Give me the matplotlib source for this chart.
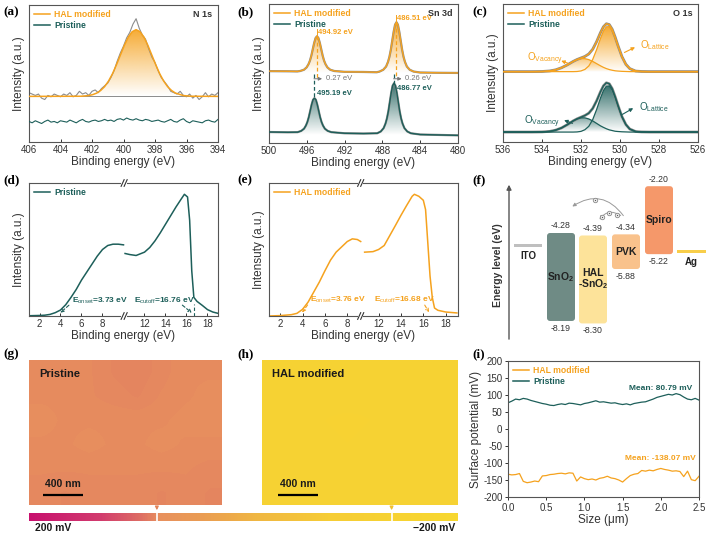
import numpy as np
import matplotlib
matplotlib.use('Agg')
import matplotlib.pyplot as plt
from matplotlib.colors import LinearSegmentedColormap, Normalize, to_rgb
from matplotlib.lines import Line2D
from matplotlib.patches import FancyBboxPatch, Rectangle, PathPatch, FancyArrowPatch
from matplotlib.path import Path

plt.rcParams['font.family'] = ['Liberation Sans', 'DejaVu Sans']
plt.rcParams['mathtext.fontset'] = 'custom'
plt.rcParams['mathtext.rm'] = 'Liberation Sans'
plt.rcParams['mathtext.bf'] = 'Liberation Sans:bold'
plt.rcParams['mathtext.it'] = 'Liberation Sans:italic'
plt.rcParams['axes.unicode_minus'] = False

W, H = 709, 534
ORANGE = '#F5A21E'
TEAL = '#1D5F5A'
GRAY = '#8C8C8C'
TXT = '#333333'

# ---------------- (a) N 1s ----------------
n1s_x = np.linspace(406, 394, 61)
n1s_hal_raw = [0.36, 0.35, 0.34, 0.35, 0.32, 0.31, 0.34, 0.33, 0.35, 0.34,
               0.33, 0.35, 0.34, 0.36, 0.33, 0.34, 0.37, 0.35, 0.36, 0.34,
               0.37, 0.38, 0.36, 0.39, 0.41, 0.43, 0.47, 0.52, 0.59, 0.65,
               0.70, 0.76, 0.80, 0.86, 0.90, 0.83, 0.78, 0.75, 0.68, 0.62,
               0.58, 0.52, 0.47, 0.44, 0.41, 0.37, 0.36, 0.35, 0.37, 0.34,
               0.33, 0.35, 0.32, 0.34, 0.31, 0.33, 0.36, 0.33, 0.35, 0.34,
               0.36]
n1s_pristine = [0.150, 0.140, 0.155, 0.145, 0.135, 0.150, 0.160, 0.145, 0.150, 0.140,
                0.155, 0.150, 0.145, 0.160, 0.150, 0.140, 0.155, 0.165, 0.150, 0.145,
                0.155, 0.160, 0.150, 0.155, 0.165, 0.155, 0.160, 0.150, 0.165, 0.170,
                0.160, 0.175, 0.165, 0.160, 0.170, 0.160, 0.155, 0.165, 0.160, 0.150,
                0.155, 0.160, 0.150, 0.145, 0.155, 0.165, 0.150, 0.145, 0.160, 0.170,
                0.150, 0.140, 0.155, 0.150, 0.145, 0.140, 0.155, 0.160, 0.150, 0.145,
                0.165]
n1s_base = 0.333
n1s_fit_x = [406, 402.7, 402.2, 401.95, 401.7, 401.45, 401.2, 400.95, 400.7, 400.45,
             400.2, 399.95, 399.7, 399.45, 399.2, 398.95, 398.7, 398.45, 398.2, 397.95,
             397.7, 397.45, 397.2, 396.95, 396.7, 396.2, 395.7, 394]
n1s_fit_y = [0.333, 0.334, 0.339, 0.346, 0.357, 0.376, 0.404, 0.445, 0.498, 0.563,
             0.634, 0.705, 0.765, 0.805, 0.820, 0.805, 0.765, 0.705, 0.634, 0.563,
             0.498, 0.445, 0.404, 0.376, 0.357, 0.339, 0.334, 0.333]

# ---------------- (b) Sn 3d ----------------
sn_hal_x = [500, 498, 497, 496.7, 496.3, 496.02, 495.82, 495.67, 495.52, 495.37,
            495.22, 495.07, 494.92, 494.77, 494.62, 494.47, 494.32, 494.17, 494.02, 493.82,
            493.52, 493.1, 492, 490, 488.6, 488.3, 487.91, 487.61, 487.41, 487.26,
            487.11, 486.96, 486.81, 486.66, 486.51, 486.36, 486.21, 486.06, 485.91, 485.76,
            485.61, 485.41, 485.11, 484.7, 484, 482, 480]
sn_hal_y = [0.517, 0.516, 0.515, 0.518, 0.527, 0.544, 0.567, 0.592, 0.628, 0.674,
            0.720, 0.755, 0.768, 0.755, 0.720, 0.674, 0.628, 0.592, 0.567, 0.544,
            0.527, 0.518, 0.512, 0.511, 0.509, 0.514, 0.527, 0.550, 0.583, 0.619,
            0.670, 0.735, 0.800, 0.851, 0.869, 0.851, 0.800, 0.735, 0.670, 0.619,
            0.583, 0.550, 0.527, 0.514, 0.507, 0.505, 0.504]
sn_pri_x = [500, 498, 496.97, 496.59, 496.29, 496.09, 495.94, 495.79, 495.64, 495.49,
            495.34, 495.19, 495.04, 494.89, 494.74, 494.59, 494.44, 494.29, 494.09, 493.79,
            493.41, 492, 490, 488.55, 488.17, 487.87, 487.67, 487.52, 487.37, 487.22,
            487.07, 486.92, 486.77, 486.62, 486.47, 486.32, 486.17, 486.02, 485.87, 485.67,
            485.37, 484.99, 484, 482, 480]
sn_pri_y = [0.079, 0.077, 0.078, 0.087, 0.103, 0.126, 0.151, 0.186, 0.231, 0.276,
            0.311, 0.323, 0.311, 0.276, 0.231, 0.186, 0.151, 0.126, 0.103, 0.087,
            0.078, 0.070, 0.068, 0.070, 0.083, 0.107, 0.140, 0.177, 0.228, 0.294,
            0.360, 0.412, 0.430, 0.412, 0.360, 0.294, 0.228, 0.177, 0.140, 0.107,
            0.083, 0.070, 0.061, 0.058, 0.055]
sn_hal_peaks = [494.92, 486.51]
sn_hal_tops = [0.768, 0.869]
sn_pri_peaks = [495.19, 486.77]
sn_pri_tops = [0.323, 0.430]
sn_pri_label_y = [0.355, 0.39]
sn_shifts = ['0.27 eV', '0.26 eV']

# ---------------- (c) O 1s ----------------
o1s_x = [536, 535, 534.5, 534, 533.6, 533.3, 533.0, 532.7, 532.4, 532.2,
         532.0, 531.8, 531.6, 531.4, 531.2, 531.0, 530.85, 530.7, 530.55, 530.4,
         530.25, 530.1, 529.9, 529.7, 529.5, 529.2, 528.9, 528.5, 528, 527, 526]
o_hal_lat = [.510, .510, .510, .510, .510, .510, .510, .510, .510, .511,
             .515, .526, .551, .598, .669, .751, .804, .835, .836, .807,
             .755, .693, .617, .562, .532, .514, .511, .510, .510, .510, .510]
o_hal_vac = [.510, .510, .510, .511, .515, .523, .538, .559, .584, .597,
             .604, .604, .597, .584, .568, .552, .541, .532, .525, .520,
             .516, .514, .512, .511, .510, .510, .510, .510, .510, .510, .510]
o_hal_tot = [.510, .510, .510, .511, .515, .523, .538, .559, .584, .598,
             .609, .620, .638, .672, .727, .793, .835, .857, .851, .817,
             .761, .697, .619, .563, .532, .514, .511, .510, .510, .510, .510]
o_pri_lat = [.072, .072, .072, .072, .072, .072, .072, .072, .072, .073,
             .077, .089, .114, .162, .235, .319, .373, .405, .406, .376,
             .323, .260, .182, .126, .094, .076, .073, .072, .072, .072, .072]
o_pri_vac = [.072, .072, .072, .073, .077, .086, .102, .126, .153, .167,
             .175, .175, .167, .153, .135, .117, .106, .096, .088, .083,
             .078, .076, .074, .073, .072, .072, .072, .072, .072, .072, .072]
o_pri_tot = [.072, .072, .072, .073, .077, .086, .102, .126, .153, .168,
             .180, .192, .209, .243, .298, .364, .407, .429, .422, .387,
             .329, .264, .184, .127, .094, .076, .073, .072, .072, .072, .072]

# ---------------- (d), (e) UPS ----------------
d_left_x = [1.0, 2.0, 2.5, 3.0, 3.5, 4.0, 4.5, 5.0, 5.5, 6.0, 6.5, 7.0, 7.5, 8.0, 8.5, 9.0, 9.5, 10.0]
d_left_y = [0.002, 0.004, 0.006, 0.012, 0.025, 0.045, 0.085, 0.14, 0.20, 0.27, 0.33, 0.39,
            0.45, 0.50, 0.53, 0.54, 0.54, 0.535]
d_right_x = [10.15, 10.6, 11.2, 12.0, 12.5, 13.0, 13.5, 14.0, 14.5, 15.0, 15.5, 15.8, 16.1,
             16.3, 16.5, 16.7, 17.0, 17.5, 18.0, 18.5, 19.0]
d_right_y = [0.47, 0.462, 0.455, 0.48, 0.515, 0.565, 0.625, 0.69, 0.755, 0.82, 0.88, 0.915,
             0.895, 0.72, 0.34, 0.14, 0.11, 0.08, 0.048, 0.03, 0.02]
e_left_x = [1.0, 2.0, 3.0, 3.5, 4.0, 4.5, 5.0, 5.5, 6.0, 6.5, 7.0, 7.5, 8.0, 8.45, 8.9, 9.2]
e_left_y = [0.0, 0.003, 0.01, 0.02, 0.05, 0.105, 0.18, 0.255, 0.34, 0.42, 0.48, 0.52, 0.56,
            0.58, 0.575, 0.56]
e_right_x = [10.75, 11.5, 12.0, 12.5, 13.0, 13.5, 14.0, 14.5, 15.0, 15.2, 15.6, 16.0, 16.2,
             16.4, 16.6, 16.8, 17.0, 17.3, 18.0, 19.0]
e_right_y = [0.48, 0.484, 0.50, 0.53, 0.605, 0.68, 0.757, 0.83, 0.90, 0.915, 0.90, 0.87, 0.80,
             0.55, 0.30, 0.14, 0.06, 0.043, 0.03, 0.023]
ups_ticks = [2, 4, 6, 8, 12, 14, 16, 18]
d_onset, d_cutoff = 3.73, 16.76
e_onset, e_cutoff = 3.76, 16.68

# ---------------- (f) energy levels ----------------
layer_names = ['SnO$_{\\mathbf{2}}$', 'HAL\n-SnO$_{\\mathbf{2}}$', 'PVK', 'Spiro']
layer_cb = [-4.28, -4.39, -4.34, -2.20]
layer_vb = [-8.19, -8.30, -5.88, -5.22]
layer_colors = ['#6F8B85', '#FDE39A', '#F9C28C', '#F5986A']
electrode_names = ['ITO', 'Ag']
electrode_levels = [-4.85, -5.10]
electrode_colors = ['#BFBFBF', '#F8CE4A']

# ---------------- (g), (h), (i) KPFM ----------------
pristine_map = [[80, 80, 81, 83, 84, 82, 80, 80],
                [80, 80, 81, 82, 83, 81, 80, 79],
                [79, 80, 80, 80, 80, 80, 79, 79],
                [80, 80, 79, 80, 80, 79, 80, 80],
                [81, 81, 81, 81, 81, 81, 81, 82],
                [82, 83, 82, 82, 82, 83, 82, 83]]
hal_map = [[-137, -138, -136, -137, -138, -139, -137, -136],
           [-138, -139, -138, -137, -138, -138, -139, -137],
           [-139, -138, -139, -140, -139, -138, -138, -139],
           [-138, -137, -138, -139, -138, -137, -138, -138],
           [-137, -138, -138, -137, -136, -138, -139, -137],
           [-138, -139, -138, -138, -137, -138, -138, -139]]
cmap_vals = [-200, -80, -53, -15, 12, 40, 78, 96, 134, 200]
cmap_cols = ['#F8D830', '#F6CD36', '#F4C43C', '#F0B842', '#EDAA4A', '#EA9C54',
             '#E8915E', '#DE6E64', '#D23C6E', '#C8106E']
kp_x = np.linspace(0, 2.5, 51)
kp_pri = [77, 82, 88, 86, 90, 88, 84, 81, 78, 75, 73, 70, 69, 72, 74, 72, 76, 75, 73, 71,
          75, 77, 80, 83, 79, 80, 78, 76, 77, 74, 72, 74, 71, 75, 77, 79, 80, 84, 88, 93,
          96, 99, 102, 100, 104, 101, 94, 88, 86, 90, 85]
kp_hal = [-133, -135, -134, -131, -154, -158, -156, -153, -155, -138, -137, -134, -133, -131,
          -130, -132, -129, -130, -153, -141, -146, -149, -147, -150, -145, -143, -139, -144,
          -146, -150, -156, -146, -137, -133, -131, -122, -124, -121, -123, -119, -116, -119,
          -121, -124, -123, -125, -140, -124, -149, -152, -139]
kp_means = [80.79, -138.07]


def add_px_axes(fig, x0, y0, x1, y1):
    return fig.add_axes([x0 / W, 1 - y1 / H, (x1 - x0) / W, (y1 - y0) / H])


def style_spec(ax, ylabel):
    ax.set_yticks([])
    ax.set_ylim(0, 1)
    ax.tick_params(axis='x', direction='in', length=2.5, width=0.7, labelsize=7,
                   pad=2, colors=TXT)
    for s in ax.spines.values():
        s.set_linewidth(0.8)
        s.set_color('#555555')
    ax.set_xlabel('Binding energy (eV)', fontsize=8.5, labelpad=1, color=TXT)
    ax.set_ylabel(ylabel, fontsize=8.5, labelpad=3, color=TXT)


def grad_fill(ax, x, y, base, color, top_alpha=0.9):
    x = np.asarray(x, float)
    y = np.asarray(y, float)
    verts = np.vstack([np.column_stack([x, y]), [[x[-1], base], [x[0], base]]])
    patch = PathPatch(Path(verts), facecolor='none', edgecolor='none')
    ax.add_patch(patch)
    rgba = np.zeros((200, 2, 4))
    rgba[..., :3] = to_rgb(color)
    rgba[..., 3] = np.linspace(top_alpha, 0.0, 200)[:, None]
    im = ax.imshow(rgba, extent=[x.min(), x.max(), base, y.max()], origin='upper',
                   aspect='auto', zorder=1, interpolation='bilinear')
    im.set_clip_path(patch)


def add_legend(ax, entries):
    handles = [Line2D([], [], color=c, lw=1.1) for _, c in entries]
    ax.legend(handles, [t for t, _ in entries], loc='upper left', frameon=False,
              handlelength=1.8, handletextpad=0.5, borderaxespad=0.4, borderpad=0.2,
              labelspacing=0.25, labelcolor='linecolor',
              prop={'weight': 'bold', 'size': 6.2})


def broken_marks(ax, xf):
    for yf in (0, 1):
        ax.add_patch(Rectangle((xf - 0.014, yf - 0.02), 0.028, 0.04, transform=ax.transAxes,
                               facecolor='white', edgecolor='none', clip_on=False, zorder=5))
        for dx in (-0.008, 0.008):
            ax.plot([xf + dx - 0.008, xf + dx + 0.008], [yf - 0.025, yf + 0.025],
                    transform=ax.transAxes, color='#333333', lw=0.8, clip_on=False, zorder=6)


fig = plt.figure(figsize=(W / 100, H / 100), dpi=100)

panel_labels = [('(a)', 3, 12), ('(b)', 237, 12), ('(c)', 472, 12),
                ('(d)', 3, 180), ('(e)', 237, 180), ('(f)', 472, 180),
                ('(g)', 3, 354), ('(h)', 237, 354), ('(i)', 472, 354)]
for lab, px, py in panel_labels:
    fig.text(px / W, 1 - py / H, lab, family=['Liberation Serif'], weight='bold',
             size=9.5, va='center', ha='left')

# ---- (a)
ax = add_px_axes(fig, 29, 5, 218, 142)
grad_fill(ax, n1s_fit_x, n1s_fit_y, n1s_base, ORANGE)
ax.axhline(n1s_base, color=GRAY, lw=0.7, zorder=2)
ax.plot(n1s_x, n1s_hal_raw, color=GRAY, lw=0.8, zorder=2)
ax.plot(n1s_fit_x, n1s_fit_y, color=ORANGE, lw=1.1, zorder=3)
ax.plot(n1s_x, n1s_pristine, color=TEAL, lw=0.8, zorder=3)
ax.set_xlim(406, 394)
ax.set_xticks([406, 404, 402, 400, 398, 396, 394])
style_spec(ax, 'Intensity (a.u.)')
add_legend(ax, [('HAL modified', ORANGE), ('Pristine', TEAL)])
ax.text(0.97, 0.93, 'N 1s', transform=ax.transAxes, ha='right', va='center',
        size=6.5, weight='bold', color=TXT)

# ---- (b)
ax = add_px_axes(fig, 269, 4, 458, 143)
grad_fill(ax, sn_hal_x, sn_hal_y, 0.503, ORANGE)
grad_fill(ax, sn_pri_x, sn_pri_y, 0.055, TEAL)
ax.plot(sn_hal_x, sn_hal_y, color=GRAY, lw=1.6, zorder=2)
ax.plot(sn_hal_x, sn_hal_y, color=ORANGE, lw=1.0, zorder=3)
ax.plot(sn_pri_x, sn_pri_y, color=GRAY, lw=1.6, zorder=2)
ax.plot(sn_pri_x, sn_pri_y, color=TEAL, lw=1.0, zorder=3)
for ph, th, pp, tp, ly, sh in zip(sn_hal_peaks, sn_hal_tops, sn_pri_peaks, sn_pri_tops,
                                  sn_pri_label_y, sn_shifts):
    ax.plot([ph, ph], [th, 0.47], color=ORANGE, lw=0.9, ls=(0, (3, 2)), zorder=4)
    ax.plot([pp, pp], [0.50, tp], color=TEAL, lw=0.9, ls=(0, (3, 2)), zorder=4)
    ax.plot([ph + 0.05, ph + 0.05], [th + 0.01, th + 0.05], color=ORANGE, lw=0.7, zorder=4)
    ax.text(ph - 0.1, th + 0.025, f'{ph:.2f} eV', color=ORANGE, size=5.5, weight='bold',
            ha='left', va='center')
    ax.text(pp - 0.3, ly, f'{pp:.2f} eV', color=TEAL, size=5.5, weight='bold',
            ha='left', va='center')
    ax.annotate('', xy=(pp - 1.1, 0.462), xytext=(pp + 0.35, 0.462),
                arrowprops=dict(arrowstyle='-|>', color='#777777', lw=0.7, mutation_scale=5))
    ax.text(pp - 1.2, 0.462, sh, color='#777777', size=5.5, ha='left', va='center')
ax.set_xlim(500, 480)
ax.set_xticks([500, 496, 492, 488, 484, 480])
style_spec(ax, 'Intensity (a.u.)')
add_legend(ax, [('HAL modified', ORANGE), ('Pristine', TEAL)])
ax.text(0.97, 0.93, 'Sn 3d', transform=ax.transAxes, ha='right', va='center',
        size=6.5, weight='bold', color=TXT)

# ---- (c)
ax = add_px_axes(fig, 503, 4, 698, 142)
grad_fill(ax, o1s_x, o_hal_vac, 0.51, ORANGE, 0.55)
grad_fill(ax, o1s_x, o_hal_lat, 0.51, ORANGE, 0.9)
grad_fill(ax, o1s_x, o_pri_vac, 0.072, TEAL, 0.55)
grad_fill(ax, o1s_x, o_pri_lat, 0.072, TEAL, 0.9)
for tot, lat, vac, c in [(o_hal_tot, o_hal_lat, o_hal_vac, ORANGE),
                         (o_pri_tot, o_pri_lat, o_pri_vac, TEAL)]:
    ax.plot(o1s_x, tot, color=GRAY, lw=2.0, zorder=2)
    ax.plot(o1s_x, tot, color=c, lw=1.0, zorder=3)
    ax.plot(o1s_x, lat, color=c, lw=0.9, zorder=3)
    ax.plot(o1s_x, vac, color=c, lw=0.9, zorder=3)
arrow_kw = dict(arrowstyle='-|>', lw=0.8, mutation_scale=5)
ax.text(534.75, 0.60, 'O$_{\\mathrm{Vacancy}}$', color=ORANGE, size=7, ha='left', va='center')
ax.annotate('', xy=(533.15, 0.595), xytext=(532.55, 0.565), arrowprops=dict(color=ORANGE, **arrow_kw))
ax.text(528.95, 0.70, 'O$_{\\mathrm{Lattice}}$', color=ORANGE, size=7, ha='left', va='center')
ax.annotate('', xy=(529.1, 0.695), xytext=(529.9, 0.64), arrowprops=dict(color=ORANGE, **arrow_kw))
ax.text(534.9, 0.15, 'O$_{\\mathrm{Vacancy}}$', color=TEAL, size=7, ha='left', va='center')
ax.annotate('', xy=(533.0, 0.165), xytext=(532.3, 0.128), arrowprops=dict(color=TEAL, **arrow_kw))
ax.text(529.05, 0.255, 'O$_{\\mathrm{Lattice}}$', color=TEAL, size=7, ha='left', va='center')
ax.annotate('', xy=(529.2, 0.255), xytext=(530.0, 0.19), arrowprops=dict(color=TEAL, **arrow_kw))
ax.set_xlim(536, 526)
ax.set_xticks([536, 534, 532, 530, 528, 526])
style_spec(ax, 'Intensuty (a.u.)')
add_legend(ax, [('HAL modified', ORANGE), ('Pristine', TEAL)])
ax.text(0.97, 0.93, 'O 1s', transform=ax.transAxes, ha='right', va='center',
        size=6.5, weight='bold', color=TXT)

# ---- (d)
ax = add_px_axes(fig, 29, 183, 218, 316)
ax.plot(d_left_x, d_left_y, color=TEAL, lw=1.1)
ax.plot(d_right_x, d_right_y, color=TEAL, lw=1.1)
ax.set_xlim(1, 19)
ax.set_xticks(ups_ticks)
style_spec(ax, 'Intensity (a.u.)')
broken_marks(ax, (10.06 - 1) / 18)
add_legend(ax, [('Pristine', TEAL)])
dash_kw = dict(arrowstyle='->', ls=(0, (3, 2)), lw=0.8, mutation_scale=5)
ax.annotate('', xy=(d_onset + 0.05, 0.01), xytext=(5.0, 0.095), arrowprops=dict(color=TEAL, **dash_kw))
ax.text(5.1, 0.115, f'E$_{{\\mathrm{{onset}}}}$={d_onset:.2f} eV', color=TEAL, size=6,
        weight='bold', ha='left', va='center')
ax.annotate('', xy=(d_cutoff - 0.05, 0.01), xytext=(15.4, 0.095), arrowprops=dict(color=TEAL, **dash_kw))
ax.plot([d_cutoff, d_cutoff], [0, 0.09], color=TEAL, lw=0.8, ls=(0, (3, 2)))
ax.text(11.0, 0.115, f'E$_{{\\mathrm{{cutoff}}}}$={d_cutoff:.2f} eV', color=TEAL, size=6,
        weight='bold', ha='left', va='center')


# ---- (e)
def gap_fwd(x):
    x = np.asarray(x, float)
    return np.where(x < 9.2, x, np.where(x > 10.4, x - 1.2, 9.2))


def gap_inv(u):
    u = np.asarray(u, float)
    return np.where(u < 9.2, u, u + 1.2)


ax = add_px_axes(fig, 269, 183, 458, 316)
ax.set_xscale('function', functions=(gap_fwd, gap_inv))
ax.plot(e_left_x, e_left_y, color=ORANGE, lw=1.1)
ax.plot(e_right_x, e_right_y, color=ORANGE, lw=1.1)
ax.set_xlim(1, 19.1)
ax.set_xticks(ups_ticks)
ax.set_xticklabels([str(t) for t in ups_ticks])
ax.xaxis.set_minor_locator(matplotlib.ticker.NullLocator())
style_spec(ax, 'Intensuty (a.u.)')
broken_marks(ax, (9.2 - 1) / (19.1 - 1.2 - 1))
add_legend(ax, [('HAL modified', ORANGE)])
ax.annotate('', xy=(e_onset + 0.05, 0.01), xytext=(4.6, 0.1), arrowprops=dict(color=ORANGE, **dash_kw))
ax.text(4.65, 0.12, f'E$_{{\\mathrm{{onset}}}}$={e_onset:.2f} eV', color=ORANGE, size=6,
        weight='bold', ha='left', va='center')
ax.annotate('', xy=(e_cutoff - 0.05, 0.01), xytext=(16.0, 0.1), arrowprops=dict(color=ORANGE, **dash_kw))
ax.text(11.55, 0.12, f'E$_{{\\mathrm{{cutoff}}}}$={e_cutoff:.2f} eV', color=ORANGE, size=6,
        weight='bold', ha='left', va='center')

# ---- (f) energy diagram (x in pixels from panel edge, y in eV)
ax = add_px_axes(fig, 505, 175, 709, 350)
ev_px = 22.5
ax.set_xlim(0, 204)
ax.set_ylim(-4.28 - 117 / ev_px, -4.28 + 58 / ev_px)
ax.axis('off')
ax.annotate('', xy=(4, -2.01), xytext=(4, -9.12),
            arrowprops=dict(arrowstyle='-|>', lw=1.0, color='#555555', mutation_scale=7))
ax.text(-7, -5.7, 'Energy level (eV)', rotation=90, ha='center', va='center',
        size=7.5, weight='bold', color=TXT)
box_left = [42, 74, 107, 140]
box_w = 28
for name, cb, vb, col, bx in zip(layer_names, layer_cb, layer_vb, layer_colors, box_left):
    ax.add_patch(FancyBboxPatch((bx, vb), box_w, cb - vb,
                                boxstyle='round,pad=0,rounding_size=3',
                                mutation_aspect=1 / ev_px, facecolor=col, edgecolor='none'))
    ax.text(bx + box_w / 2, cb + 0.32, f'{cb:.2f}', ha='center', va='center', size=6.3, color=TXT)
    ax.text(bx + box_w / 2, vb - 0.33, f'{vb:.2f}', ha='center', va='center', size=6.3, color=TXT)
    ax.text(bx + box_w / 2, (cb + vb) / 2, name, ha='center', va='center', size=7.5,
            weight='bold', color='#222222', linespacing=1.0)
for name, lev, col, bx, bw in zip(electrode_names, electrode_levels, electrode_colors,
                                  [9, 172], [28, 29]):
    ax.add_patch(Rectangle((bx, lev - 0.07), bw, 0.14, facecolor=col, edgecolor='none'))
    ax.text(bx + bw / 2, lev - 0.45, name, ha='center', va='center', size=7,
            weight='bold', color='#222222')
ax.add_patch(FancyArrowPatch((120, -3.61), (65, -3.17), connectionstyle='arc3,rad=0.5',
                             arrowstyle='-|>', mutation_scale=5, color='#9A9A9A', lw=0.7))
ax.add_patch(FancyArrowPatch((118, -3.57), (93, -3.79), connectionstyle='arc3,rad=0.55',
                             arrowstyle='-|>', mutation_scale=5, color='#9A9A9A', lw=0.7))
ax.plot([90, 97, 104, 112], [-2.80, -3.57, -3.39, -3.47], ls='none', marker='o', ms=3.2,
        mfc='#EEEEEE', mec='#8A8A8A', mew=0.6)
ax.plot([90, 97, 104, 112], [-2.80, -3.57, -3.39, -3.47], ls='none', marker='o', ms=0.9,
        mfc='#555555', mec='none')

# ---- (g), (h) KPFM maps
kp_cmap = LinearSegmentedColormap.from_list(
    'kpfm', [((v + 200) / 400, c) for v, c in zip(cmap_vals, cmap_cols)])
kp_norm = Normalize(vmin=-200, vmax=200)
for (x0, x1), data, title, (s0, s1) in [((29, 222), pristine_map, 'Pristine', (0.14, 0.54)),
                                        ((262, 458), hal_map, 'HAL modified', (0.16, 0.56))]:
    ax = add_px_axes(fig, x0, 360, x1, 505)
    wid = (x1 - x0) / 100
    ax.imshow(np.array(data, float), cmap=kp_cmap, norm=kp_norm, interpolation='bilinear',
              extent=[0, wid, 0, 1.45], aspect='auto', origin='upper')
    ax.set_xlim(0, wid)
    ax.set_ylim(0, 1.45)
    ax.axis('off')
    ax.text(0.10, 1.31, title, ha='left', va='center', size=8, weight='bold', color='#1A1A1A')
    ax.plot([s0, s1], [0.10, 0.10], color='black', lw=1.6, solid_capstyle='butt')
    ax.text((s0 + s1) / 2, 0.21, '400 nm', ha='center', va='center', size=7.5,
            weight='bold', color='#1A1A1A')

cax = add_px_axes(fig, 29, 513, 458, 521)
ramp = np.linspace(200, -200, 400)[None, :]
cax.imshow(ramp, cmap=kp_cmap, norm=kp_norm, aspect='auto', extent=[200, -200, 0, 1])
cax.set_xlim(200, -200)
cax.axis('off')
for m, c in zip(kp_means, ['#E2845A', '#F0C030']):
    cax.axvline(m, color='white', lw=1.2)
    cax.annotate('', xy=(m, 1.0), xycoords=('data', 'axes fraction'),
                 xytext=(m, 2.1), textcoords=('data', 'axes fraction'),
                 arrowprops=dict(arrowstyle='-|>', color=c, lw=0.9, mutation_scale=5))
fig.text(35 / W, 1 - 528 / H, '200 mV', ha='left', va='center', size=7.5, weight='bold',
         color='#1A1A1A')
fig.text(455 / W, 1 - 528 / H, '\u2212200 mV', ha='right', va='center', size=7.5,
         weight='bold', color='#1A1A1A')

# ---- (i) surface potential
ax = add_px_axes(fig, 508, 361, 699, 497)
ax.plot(kp_x, kp_hal, color=ORANGE, lw=0.9)
ax.plot(kp_x, kp_pri, color=TEAL, lw=0.9)
ax.set_xlim(0, 2.5)
ax.set_ylim(-200, 200)
ax.set_xticks([0, 0.5, 1.0, 1.5, 2.0, 2.5])
ax.set_xticklabels(['0.0', '0.5', '1.0', '1.5', '2.0', '2.5'])
ax.set_yticks(np.arange(-200, 201, 50))
ax.tick_params(direction='out', length=2.5, width=0.7, labelsize=7, pad=1.5, colors=TXT)
for s in ax.spines.values():
    s.set_linewidth(0.8)
    s.set_color('#555555')
ax.set_xlabel('Size (\u03bcm)', fontsize=8.5, labelpad=1, color=TXT)
ax.set_ylabel('Surface potential (mV)', fontsize=8.5, labelpad=1, color=TXT)
add_legend(ax, [('HAL modified', ORANGE), ('Pristine', TEAL)])
ax.text(2.0, 118, f'Mean: {kp_means[0]:.2f} mV', color=TEAL, ha='center', va='center',
        size=6, weight='bold')
ax.text(2.0, -86, f'Mean: {kp_means[1]:.2f} mV', color=ORANGE, ha='center', va='center',
        size=6, weight='bold')

fig.savefig('out.png', dpi=100)
